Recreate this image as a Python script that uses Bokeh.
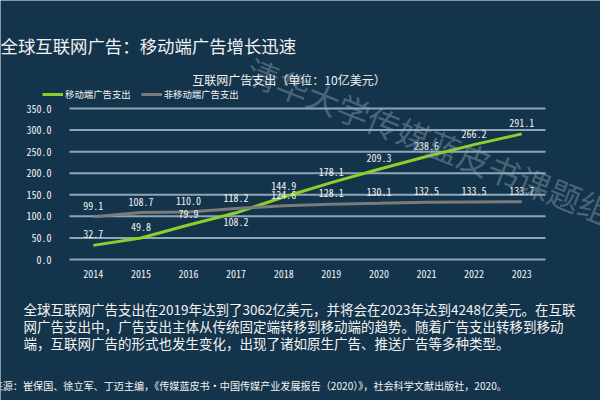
from bokeh.plotting import figure
from bokeh.models import Label, Legend, LegendItem, NumeralTickFormatter, FixedTicker, Range1d
from bokeh.embed import file_html
from bokeh.resources import INLINE

years = ["2014", "2015", "2016", "2017", "2018", "2019", "2020", "2021", "2022", "2023"]
mobile = [32.7, 49.8, 79.9, 108.2, 144.9, 178.1, 209.3, 238.6, 266.2, 291.1]
non_mobile = [99.1, 108.7, 110.0, 118.2, 124.6, 128.1, 130.1, 132.5, 133.5, 133.7]
y_ticks = [0, 50, 100, 150, 200, 250, 300, 350]

title_text = "全球互联网广告：移动端广告增长迅速"
chart_title = "互联网广告支出（单位：10亿美元）"
series_names = ["移动端广告支出", "非移动端广告支出"]
para_lines = [
    "全球互联网广告支出在2019年达到了3062亿美元，并将会在2023年达到4248亿美元。在互联",
    "网广告支出中，广告支出主体从传统固定端转移到移动端的趋势。随着广告支出转移到移动",
    "端，互联网广告的形式也发生变化，出现了诸如原生广告、推送广告等多种类型。",
]
source_text = "资料来源：崔保国、徐立军、丁迈主编，《传媒蓝皮书·中国传媒产业发展报告（2020）》，社会科学文献出版社，2020。"
watermark = "清华大学传媒蓝皮书课题组"

BG = "#14344b"
GRID = "#8ea6b8"
GREEN = "#8ccf2c"
GREY = "#7b7b79"
TXT = "#f2f2f2"
CJK = "Noto Sans CJK SC"
NUM = "'Noto Sans Mono CJK SC', 'Liberation Mono', monospace"

W, H = 600, 400
# plotting area placement (pixels): left, right, top, bottom
L, R, T, B = 69, 545, 108, 259
n = len(years)
xs = list(range(n))
ppx = (R - L) / n                 # px per category
ppy = (B - T) / y_ticks[-1]       # px per unit
x_range = Range1d(-0.5 - L / ppx, n - 0.5 + (W - R) / ppx)
y_range = Range1d(0 - (H - B) / ppy, y_ticks[-1] + T / ppy)

p = figure(width=W, height=H, x_range=x_range, y_range=y_range,
           output_backend="svg", toolbar_location=None, min_border=0)
p.background_fill_color = BG
p.border_fill_color = BG
p.outline_line_color = None
p.grid.grid_line_color = None

# horizontal grid lines over the category span
p.segment(x0=[-0.5] * len(y_ticks), x1=[n - 0.5] * len(y_ticks), y0=y_ticks, y1=y_ticks,
          line_color=GRID, line_width=2)

p.yaxis.fixed_location = -0.5
p.xaxis.fixed_location = 0
p.yaxis.ticker = FixedTicker(ticks=y_ticks)
p.yaxis.formatter = NumeralTickFormatter(format="0.0")
p.xaxis.ticker = FixedTicker(ticks=xs)
p.xaxis.major_label_overrides = {i: y for i, y in enumerate(years)}
for ax in (p.xaxis, p.yaxis):
    ax.axis_line_color = None
    ax.major_tick_line_color = None
    ax.minor_tick_line_color = None
    ax.major_label_text_color = TXT
    ax.major_label_text_font = NUM
    ax.major_label_text_font_size = "10px"
p.yaxis.major_label_standoff = 12
p.xaxis.major_label_standoff = 4

r1 = p.line(xs, mobile, line_color=GREEN, line_width=3)
r2 = p.line(xs, non_mobile, line_color=GREY, line_width=3)

for i in xs:
    off = -13 if i == 3 else 7
    p.add_layout(Label(x=i, y=mobile[i], text=f"{mobile[i]:.1f}", text_align="center",
                       y_offset=off, text_color=TXT, text_font=NUM, text_font_size="10px"))
    p.add_layout(Label(x=i, y=non_mobile[i], text=f"{non_mobile[i]:.1f}", text_align="center",
                       y_offset=7, text_color=TXT, text_font=NUM, text_font_size="10px"))

legend = Legend(items=[LegendItem(label=series_names[0], renderers=[r1]),
                       LegendItem(label=series_names[1], renderers=[r2])],
                orientation="horizontal", location=(42, H - 101), background_fill_alpha=0,
                border_line_color=None, label_text_color=TXT, label_text_font=CJK,
                label_text_font_size="9.4px", glyph_width=21, glyph_height=10,
                label_standoff=2, spacing=10, padding=0, margin=0, label_height=10)
p.add_layout(legend)

def sl(x, y, text, size, color=TXT, baseline="middle", **kw):
    # x, y given in canvas pixels from the top-left corner
    p.add_layout(Label(x=x, y=H - y, x_units="screen", y_units="screen", text=text,
                       text_color=color, text_font=CJK, text_font_size=size,
                       text_baseline=baseline, **kw))

sl(248, 67, watermark, "32.5px", color="#9aaab8", text_alpha=0.42, angle=-0.38)
sl(0, 45, title_text, "17.4px")
sl(288.5, 79, chart_title, "12px", text_align="center")
for k, line in enumerate(para_lines):
    sl(23, 308 + 17 * k, line, "13.5px")
sl(-28, 385, source_text, "10.1px")

open("out.html", "w").write(file_html(p, INLINE))
